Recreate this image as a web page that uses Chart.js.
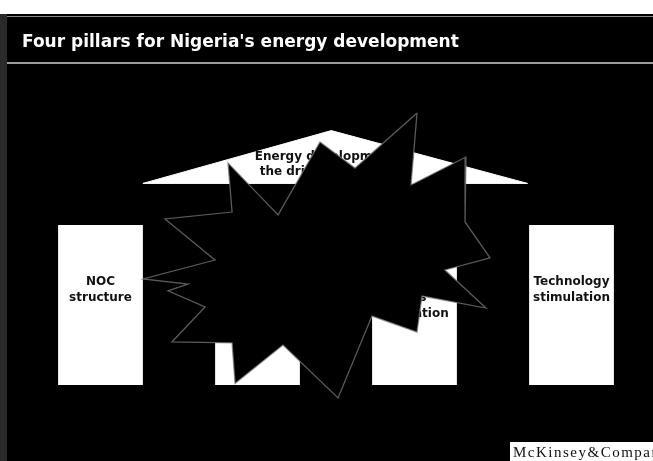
<!DOCTYPE html>
<html>
<head>
<meta charset="utf-8">
<script src="https://cdn.jsdelivr.net/npm/chart.js@4.4.1/dist/chart.umd.min.js"></script>
<style>
  html, body { margin: 0; padding: 0; background: #000; }
  canvas { display: block; }
</style>
</head>
<body>
<canvas id="pillars" width="653" height="461"></canvas>
<script>
// four pillars under one roof, with the burst laid over the middle
const pillarLabels = [
  ['NOC', 'structure'],
  ['Downstream', 'sector', 'deregulation'],
  ['Domestic', 'gas', 'utilisation'],
  ['Technology', 'stimulation']
];
const pillarBase = [0, 0, 0, 0];
const pillarTop = [10, 10, 10, 10];

// roof: x in pillar index units, y in pillar height units
const roofX = [0.27, 1.47, 2.72];
const roofY = [12.6, 15.9, 12.6];
const roofText = ['Energy development as', 'the driver of economy'];

// burst outline, clockwise from the top spike
const burstX = [2.016, 1.978, 2.328, 2.322, 2.481, 2.194, 2.455, 2.048, 2.016, 1.729,
                1.513, 1.162, 0.857, 0.838, 0.455, 0.666, 0.430, 0.557, 0.271, 0.729,
                0.411, 0.838, 0.812, 1.131, 1.398, 1.621, 2.016];
const burstY = [17.0, 12.5, 14.25, 10.19, 7.94, 7.19, 4.81, 5.56, 3.31, 4.31,
                -0.81, 2.5, 0.1, 2.63, 2.69, 4.88, 5.88, 6.31, 6.63, 7.81,
                10.38, 10.81, 13.88, 10.63, 15.19, 13.56, 17.0];

const toPoints = (xs, ys) => xs.map((x, i) => ({ x: x, y: ys[i] }));

const slideBackground = {
  id: 'slideBackground',
  beforeDraw(chart) {
    const { ctx, width, height } = chart;
    ctx.save();
    ctx.fillStyle = '#000';
    ctx.fillRect(0, 0, width, height);
    ctx.fillStyle = '#fff';
    ctx.fillRect(0, 0, width, 14);
    ctx.fillStyle = '#2a2a2a';
    ctx.fillRect(0, 14, 7, height - 14);
    ctx.strokeStyle = '#8a8a8a';
    ctx.lineWidth = 1;
    ctx.beginPath();
    ctx.moveTo(7, 16.5);
    ctx.lineTo(width, 16.5);
    ctx.stroke();
    ctx.strokeStyle = '#d0d0d0';
    ctx.lineWidth = 1.5;
    ctx.beginPath();
    ctx.moveTo(7, 63);
    ctx.lineTo(width, 63);
    ctx.stroke();
    ctx.restore();
  }
};

// labels go in right after their own dataset, so the burst covers them
const diagramText = {
  id: 'diagramText',
  afterDatasetDraw(chart, args) {
    const { ctx } = chart;
    const y = chart.scales.y;
    ctx.save();
    ctx.fillStyle = '#111';
    ctx.textAlign = 'center';
    ctx.textBaseline = 'middle';
    ctx.font = 'bold 12px "DejaVu Sans", sans-serif';
    if (args.index === 0) {
      const bars = chart.getDatasetMeta(0).data;
      const top = y.getPixelForValue(6.45);
      bars.forEach((bar, i) => {
        pillarLabels[i].forEach((line, j) => ctx.fillText(line, bar.x, top + j * 16));
      });
    }
    if (args.index === 1) {
      const cx = chart.scales.x2.getPixelForValue(1.49);
      const top = y.getPixelForValue(14.25);
      roofText.forEach((line, j) => ctx.fillText(line, cx, top + j * 15));
    }
    ctx.restore();
  },
  afterDraw(chart) {
    const { ctx, width, height } = chart;
    ctx.save();
    ctx.fillStyle = '#fff';
    ctx.fillRect(510, 442, width - 510, height - 442);
    ctx.fillStyle = '#111';
    ctx.font = '15px "Liberation Serif", serif';
    ctx.letterSpacing = '1.5px';
    ctx.textBaseline = 'alphabetic';
    ctx.fillText('McKinsey&Company', 513, 457);
    ctx.restore();
  }
};

new Chart(document.getElementById('pillars'), {
  type: 'bar',
  data: {
    labels: pillarLabels.map(l => l.join(' ')),
    datasets: [{
      data: pillarBase.map((b, i) => [b, pillarTop[i]]),
      backgroundColor: '#fff',
      borderWidth: 0,
      grouped: false,
      barPercentage: 0.54,
      categoryPercentage: 1,
      order: 3
    }, {
      type: 'line',
      xAxisID: 'x2',
      data: toPoints(roofX.concat(roofX[0]), roofY.concat(roofY[0])),
      backgroundColor: '#fff',
      borderColor: '#fff',
      borderWidth: 1,
      fill: 'shape',
      pointRadius: 0,
      tension: 0,
      order: 2
    }, {
      type: 'line',
      xAxisID: 'x2',
      data: toPoints(burstX, burstY),
      backgroundColor: '#000',
      borderColor: 'rgba(120,120,120,0.75)',
      borderWidth: 1.3,
      fill: 'shape',
      pointRadius: 0,
      tension: 0,
      order: 1
    }]
  },
  options: {
    responsive: false,
    animation: false,
    events: [],
    layout: { padding: { left: 22, right: 3, top: 0, bottom: 0 } },
    scales: {
      x: { display: false, offset: true },
      x2: { type: 'linear', display: false, offset: false, grid: { offset: false }, min: -0.5, max: 3.5 },
      y: { display: false, min: -4.75, max: 19.125 }
    },
    plugins: {
      legend: { display: false },
      tooltip: { enabled: false },
      title: {
        display: true,
        text: "Four pillars for Nigeria's energy development",
        align: 'start',
        color: '#fff',
        font: { family: '"DejaVu Sans", sans-serif', size: 17, weight: 'bold' },
        padding: { top: 32, bottom: 26.6 }
      }
    }
  },
  plugins: [slideBackground, diagramText]
});
</script>
</body>
</html>
